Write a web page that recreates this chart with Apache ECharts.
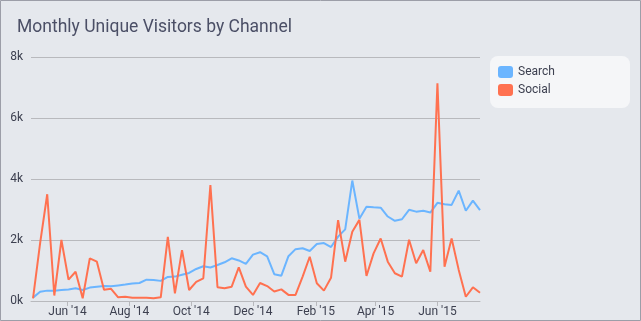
<!DOCTYPE html>
<html>
<head>
<meta charset="utf-8">
<script src="https://cdn.jsdelivr.net/npm/echarts@6/dist/echarts.min.js"></script>
<style>
html,body{margin:0;padding:0;background:#e5e8ed;}
#chart{width:641px;height:321px;}
</style>
</head>
<body>
<div id="chart"></div>
<script>
const titleText = 'Monthly Unique Visitors by Channel';
const seriesNames = ['Search', 'Social'];
const weeks = [
  '2014-04-28','2014-05-05','2014-05-12','2014-05-19','2014-05-26','2014-06-02','2014-06-09','2014-06-16',
  '2014-06-23','2014-06-30','2014-07-07','2014-07-14','2014-07-21','2014-07-28','2014-08-04','2014-08-11',
  '2014-08-18','2014-08-25','2014-09-01','2014-09-08','2014-09-15','2014-09-22','2014-09-29','2014-10-06',
  '2014-10-13','2014-10-20','2014-10-27','2014-11-03','2014-11-10','2014-11-17','2014-11-24','2014-12-01',
  '2014-12-08','2014-12-15','2014-12-22','2014-12-29','2015-01-05','2015-01-12','2015-01-19','2015-01-26',
  '2015-02-02','2015-02-09','2015-02-16','2015-02-23','2015-03-02','2015-03-09','2015-03-16','2015-03-23',
  '2015-03-30','2015-04-06','2015-04-13','2015-04-20','2015-04-27','2015-05-04','2015-05-11','2015-05-18',
  '2015-05-25','2015-06-01','2015-06-08','2015-06-15','2015-06-22','2015-06-29','2015-07-06','2015-07-13'
];
const searchValues = [
  110, 300, 340, 340, 360, 380, 415, 360, 440, 470, 490, 480, 510, 540, 575, 590,
  700, 690, 660, 790, 800, 860, 920, 1050, 1140, 1100, 1180, 1270, 1400, 1330, 1220, 1520,
  1600, 1460, 880, 830, 1470, 1700, 1730, 1640, 1870, 1900, 1770, 2110, 2350, 3950, 2700, 3090,
  3070, 3060, 2770, 2630, 2680, 2990, 2930, 2960, 2900, 3220, 3170, 3150, 3620, 2960, 3290, 2980
];
const socialValues = [
  90, 1900, 3500, 180, 2000, 700, 960, 90, 1400, 1290, 370, 400, 120, 140, 110, 110,
  110, 90, 120, 2100, 250, 1670, 360, 630, 745, 3800, 450, 415, 470, 1100, 470, 200,
  590, 490, 310, 380, 200, 200, 800, 1450, 580, 340, 760, 2650, 1290, 2270, 2660, 820,
  1560, 2050, 1290, 910, 800, 2010, 1235, 1670, 960, 7140, 1125, 2050, 1020, 140, 450, 270
];
const xAxisMinDate = '2014-04-26';
const xTickDates = ['2014-06-01','2014-08-01','2014-10-01','2014-12-01','2015-02-01','2015-04-01','2015-06-01'];
const xTickLabels = ["Jun '14","Aug '14","Oct '14","Dec '14","Feb '15","Apr '15","Jun '15"];
const yTickValues = [0, 2000, 4000, 6000, 8000];
const yTickLabels = ['0k','2k','4k','6k','8k'];

const toTs = s => new Date(s + 'T00:00:00').getTime();
const xTickTs = xTickDates.map(toTs);
const FONT = 'Roboto';
const chart = echarts.init(document.getElementById('chart'), null, {renderer: 'canvas'});
chart.setOption({
  backgroundColor: '#e5e8ed',
  animation: false,
  textStyle: {fontFamily: FONT},
  title: {
    text: titleText, left: 12, top: 14,
    textStyle: {fontFamily: FONT, fontSize: 17.5, fontWeight: 'normal', color: '#4b4f66'}
  },
  graphic: [
    {type: 'rect', shape: {x: 0.5, y: 0.5, width: 640, height: 320}, style: {fill: 'none', stroke: '#9c9ea8', lineWidth: 1}, z: 100},
    {type: 'rect', shape: {x: 490, y: 56, width: 140, height: 52, r: 8}, style: {fill: '#f5f6f8'}, z: -1}
  ],
  legend: {
    data: seriesNames, orient: 'vertical', left: 498, top: 66, padding: 0,
    itemWidth: 15, itemHeight: 12, itemGap: 6, icon: 'roundRect',
    textStyle: {fontFamily: FONT, fontSize: 12, color: '#3d4050'}
  },
  grid: {left: 31, right: 161, top: 57, bottom: 20, containLabel: false},
  xAxis: {
    type: 'value', min: toTs(xAxisMinDate), max: toTs(weeks[weeks.length - 1]),
    axisLine: {show: true, lineStyle: {color: '#b8b9bd', width: 1}},
    axisTick: {show: true, length: 5, customValues: xTickTs, lineStyle: {color: '#b8b9bd'}},
    axisLabel: {
      customValues: xTickTs, margin: 5, fontSize: 12, color: '#3d4050', fontFamily: FONT,
      formatter: (v) => { const i = xTickTs.indexOf(v); return i >= 0 ? xTickLabels[i] : ''; }
    },
    splitLine: {show: false}
  },
  yAxis: {
    type: 'value', min: 0, max: 8000, interval: 2000,
    axisLine: {show: false}, axisTick: {show: false},
    axisLabel: {
      margin: 8, fontSize: 12, color: '#3d4050', fontFamily: FONT,
      formatter: (v) => yTickLabels[yTickValues.indexOf(v)]
    },
    splitLine: {lineStyle: {color: '#b8b9bd', width: 1}}
  },
  series: [
    {name: seriesNames[0], type: 'line', showSymbol: false, symbol: 'none', color: '#6bb5ff',
     lineStyle: {width: 2, color: '#6bb5ff'}, data: weeks.map((d, i) => [toTs(d), searchValues[i]])},
    {name: seriesNames[1], type: 'line', showSymbol: false, symbol: 'none', color: '#ff7150',
     lineStyle: {width: 2, color: '#ff7150'}, data: weeks.map((d, i) => [toTs(d), socialValues[i]])}
  ]
});
</script>
</body>
</html>
